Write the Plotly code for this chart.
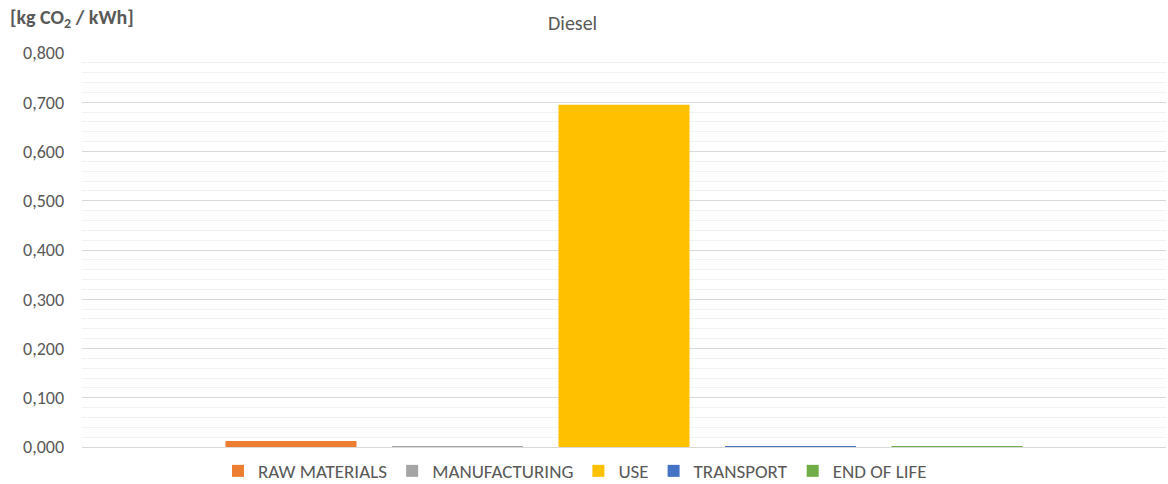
import plotly.graph_objects as go

# Life-cycle CO2 emissions per kWh for a diesel generator
category = ["Diesel"]
stages = ["RAW MATERIALS", "MANUFACTURING", "USE", "TRANSPORT", "END OF LIFE"]
emissions = [0.012, 0.001, 0.695, 0.002, 0.0008]
colors = ["#ED7D31", "#A5A5A5", "#FFC000", "#4472C4", "#70AD47"]

y_ticks = [0, 0.1, 0.2, 0.3, 0.4, 0.5, 0.6, 0.7, 0.8]

FONT = "Calibri, Carlito, Lato, sans-serif"
TEXT = "#595959"

fig = go.Figure()
for name, val, col in zip(stages, emissions, colors):
    fig.add_trace(go.Bar(x=category, y=[val], name=name, marker=dict(color=col, line=dict(width=0))))

fig.update_layout(
    width=1168, height=484,
    margin=dict(l=82, r=2, t=53, b=37, autoexpand=False),
    paper_bgcolor="white", plot_bgcolor="white",
    separators=", ",
    barmode="group", bargap=0.232, bargroupgap=0.213,
    font=dict(family=FONT, size=18, color=TEXT),
    showlegend=True,
    legend=dict(orientation="h", x=(575 - 82) / 1084, xanchor="center",
                y=-(471 - 447) / 394, yanchor="middle",
                font=dict(size=19, color=TEXT), itemwidth=30, traceorder="normal"),
)
fig.update_xaxes(showticklabels=False, showgrid=False, zeroline=False, showline=False)
fig.update_yaxes(range=[0, 0.8], tickvals=y_ticks, tickformat=".3f",
                 showgrid=True, gridcolor="#D9D9D9", gridwidth=1,
                 minor=dict(dtick=0.02, showgrid=True, gridcolor="#F2F2F2", gridwidth=1),
                 zeroline=True, zerolinecolor="#D9D9D9", zerolinewidth=1,
                 ticks="", ticklabelstandoff=17,
                 tickfont=dict(size=18, color=TEXT))

fig.add_annotation(text="<b>[kg CO<sub>2</sub> / kWh]</b>", xref="paper", yref="paper",
                   x=(8 - 82) / 1084, xanchor="left", y=1 + (53 - 18) / 394, yanchor="middle",
                   showarrow=False, font=dict(size=20, color=TEXT))
fig.add_annotation(text="Diesel", xref="paper", yref="paper",
                   x=(572 - 82) / 1084, xanchor="center", y=1 + (53 - 23) / 394, yanchor="middle",
                   showarrow=False, font=dict(size=20, color=TEXT))

fig.write_html("out.html")
